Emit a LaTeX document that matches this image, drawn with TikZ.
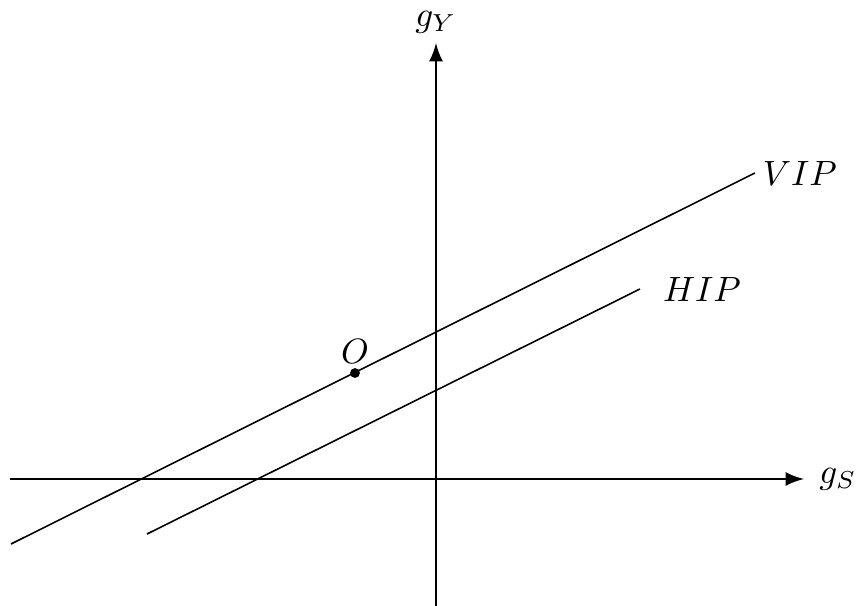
\documentclass[tikz,border=0pt]{standalone}
\usepackage{amsmath}
\usepackage{tikz}
\usetikzlibrary{arrows, positioning}

\begin{document}
\begin{tikzpicture}[
        axis/.style={thick,->,>=latex},
        ipline/.style={line width=0.45pt},
        dot/.style={circle, fill=black, inner sep=0pt, minimum size=2.8pt}
    ]
        \useasboundingbox (-4.36,-1.27) rectangle (4.23,4.79);
        \coordinate (xl) at (-4.26,0);
        \coordinate (xr) at (3.68,0);
        \coordinate (yb) at (0,-1.27);
        \coordinate (yt) at (0,4.36);
        \coordinate (vipa) at (-4.25,-0.65);
        \coordinate (vipb) at (3.19,3.06);
        \coordinate (hipa) at (-2.89,-0.55);
        \coordinate (hipb) at (2.04,1.90);
        \draw [axis] (xl) -- (xr) node [right, inner sep=2pt, xshift=2pt] (gs) {$g_S$};
        \draw [axis] (yb) -- (yt) node [above, yshift=-1pt] (gy) {$g_Y$};
        \draw [ipline] (vipa) -- (vipb) node [right, inner sep=2pt] (vip) {$VIP$};
        \draw [ipline] (hipa) -- (hipb) node [right, xshift=3pt] (hip) {$HIP$};
        \node (o) [dot] at (-0.81,1.06) {};
        \node (olabel) [above=0pt of o, inner sep=1pt] {$O$};
    \end{tikzpicture}
\end{document}
